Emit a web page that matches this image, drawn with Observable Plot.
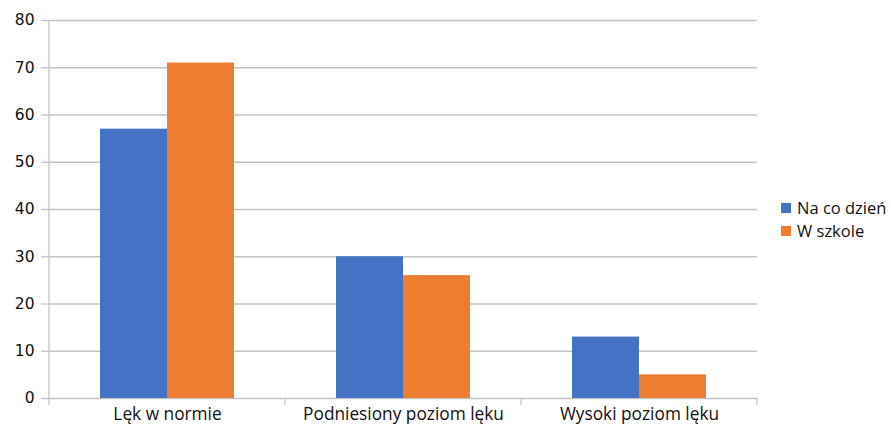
<!DOCTYPE html>
<html><head><meta charset="utf-8">
<script src="https://cdn.jsdelivr.net/npm/d3@7"></script>
<script src="https://cdn.jsdelivr.net/npm/@observablehq/plot@0.6"></script>
<style>
body{margin:0;background:#fff;font-family:"Open Sans",sans-serif}
#wrap{position:relative;width:891px;height:426px}
#legend{position:absolute;left:781px;top:196px;font-size:16.5px;color:#111}
.item{display:flex;align-items:center;height:23px;white-space:nowrap}
.sw{width:10px;height:10px;margin-right:6px;flex:none}
</style></head><body><div id="wrap"><div id="legend"></div></div>
<script>
const categories = ["Lęk w normie", "Podniesiony poziom lęku", "Wysoki poziom lęku"];
const seriesNames = ["Na co dzień", "W szkole"];
const naCoDzien = [57, 30, 13];
const wSzkole = [71, 26, 5];
const colors = ["#4472C4", "#ED7D31"];
const yTicks = [0, 10, 20, 30, 40, 50, 60, 70, 80];

const data = categories.flatMap((c, i) => [
  {category: c, series: seriesNames[0], value: naCoDzien[i]},
  {category: c, series: seriesNames[1], value: wSzkole[i]}
]);

const gridColor = "#c4c4c4";

const plot = Plot.plot({
  width: 891, height: 426,
  marginLeft: 48, marginRight: 134, marginTop: 20, marginBottom: 28,
  style: {fontFamily: "'Open Sans', sans-serif", fontSize: "17.3px", color: "#111", background: "#fff"},
  fx: {domain: categories, padding: 0, label: null},
  x: {domain: seriesNames, paddingInner: 0, paddingOuter: 0.737, axis: null},
  y: {domain: [0, 80], label: null},
  color: {domain: seriesNames, range: colors},
  marks: [
    Plot.gridY(yTicks, {stroke: gridColor, strokeOpacity: 1, strokeWidth: 1.3}),
    Plot.axisY(yTicks, {tickSize: 8, tickPadding: 7, stroke: gridColor, strokeWidth: 1.3, label: null, fill: "#111",
      fontFamily: "'DejaVu Sans', sans-serif", fontSize: 15.5}),
    Plot.axisFx({anchor: "bottom", tickSize: 0, tickPadding: 9, label: null, fill: "#111"}),
    Plot.barY(data, {fx: "category", x: "series", y: "value", fill: "series"})
  ]
});

document.getElementById("wrap").prepend(plot);

// category boundary tick marks and vertical axis line, positioned via Plot scales
const fx = plot.scale("fx");
const y = plot.scale("y");
const svg = d3.select(plot);
const edges = categories.map(c => fx.apply(c)).concat([fx.apply(categories[categories.length - 1]) + fx.bandwidth]);
const y0 = y.apply(0), yTop = y.apply(80);
svg.append("g").selectAll("line").data(edges).join("line")
  .attr("x1", d => d).attr("x2", d => d)
  .attr("y1", (d, i) => i === 0 ? yTop : y0)
  .attr("y2", y0 + 7)
  .attr("stroke", gridColor).attr("stroke-width", 1.3);

// legend
const legend = d3.select("#legend");
seriesNames.forEach((s, i) => {
  const it = legend.append("div").attr("class", "item");
  it.append("div").attr("class", "sw").style("background", colors[i]);
  it.append("span").text(s);
});
</script>
</body></html>
